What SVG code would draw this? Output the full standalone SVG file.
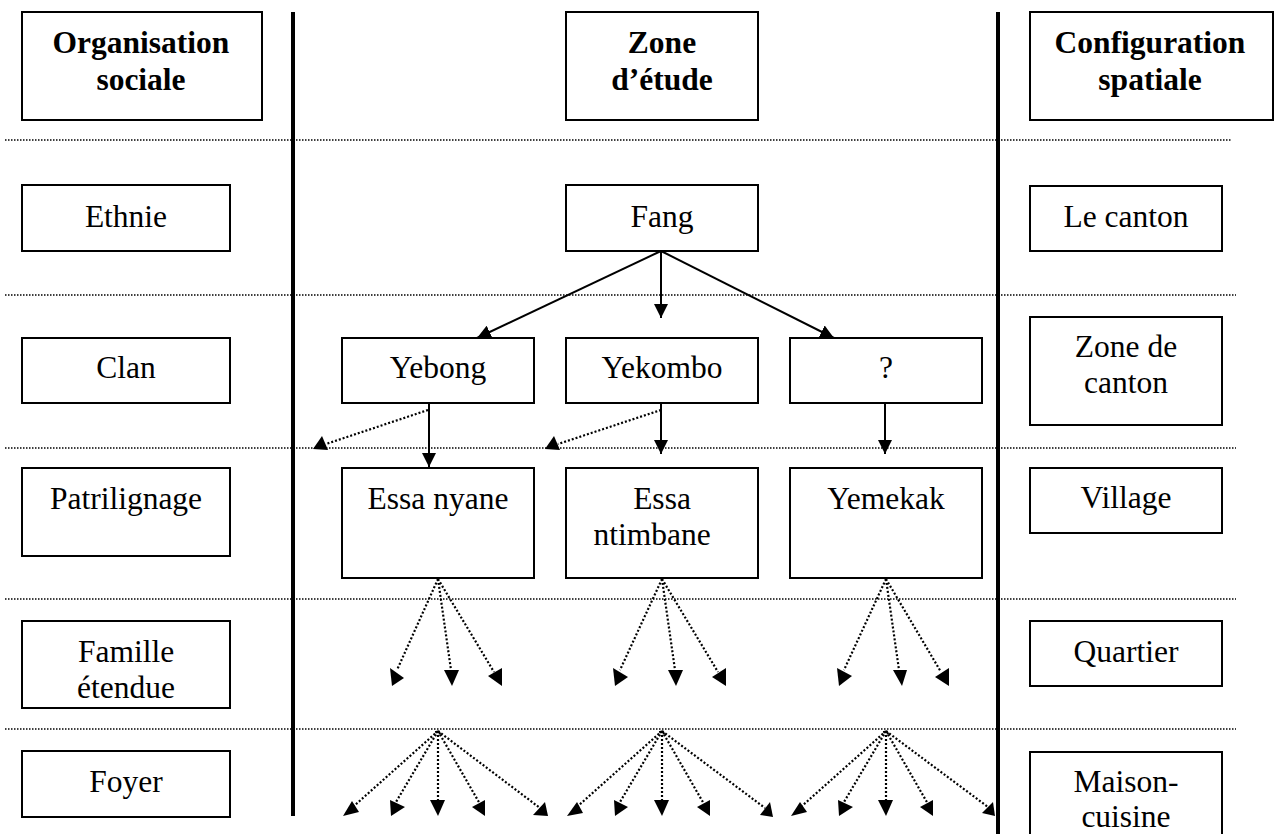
<svg xmlns="http://www.w3.org/2000/svg" width="1276" height="834" viewBox="0 0 1276 834">
  <defs>
    <style>
      .box { fill: #fff; stroke: #000; stroke-width: 2; }
      .lbl { font-family: "Liberation Serif", "Times New Roman", serif; font-size: 31.5px; fill: #000; text-anchor: middle; }
      .hdr { font-weight: bold; }
      .sep { stroke: #000; stroke-width: 1.5; stroke-dasharray: 1.5 1.5; fill: none; }
      .wall { stroke: #000; stroke-width: 4; fill: none; }
      .solid { stroke: #000; stroke-width: 2; fill: none; marker-end: url(#head); }
      .dot { stroke: #000; stroke-width: 2.2; stroke-dasharray: 2 2; fill: none; }
      .tip { fill: #000; stroke: none; }
    </style>
    <marker id="head" viewBox="0 0 14 14" refX="14" refY="7" markerWidth="14" markerHeight="14" markerUnits="userSpaceOnUse" orient="auto">
      <path d="M0,0 L14,7 L0,14 z" fill="#000"/>
    </marker>
  </defs>
  <rect width="1276" height="834" fill="#fff"/>

  <!-- level separators and column walls -->
  <g id="grid">
    <line class="sep" x1="5" y1="140" x2="1232" y2="140"/>
    <line class="sep" x1="5" y1="295" x2="1236" y2="295"/>
    <line class="sep" x1="5" y1="448" x2="1236" y2="448"/>
    <line class="sep" x1="5" y1="599" x2="1236" y2="599"/>
    <line class="sep" x1="5" y1="729" x2="1236" y2="729"/>
    <line class="wall" x1="293" y1="12" x2="293" y2="816"/>
    <line class="wall" x1="998" y1="12" x2="998" y2="834"/>
  </g>

  <!-- headers -->
  <g id="hdr-org">
    <rect class="box" x="22" y="12" width="240" height="108"/>
    <text class="lbl hdr" x="141" y="53">Organisation</text>
    <text class="lbl hdr" x="141" y="90">sociale</text>
  </g>
  <g id="hdr-zone">
    <rect class="box" x="566" y="12" width="192" height="108"/>
    <text class="lbl hdr" x="662" y="53">Zone</text>
    <text class="lbl hdr" x="662" y="90">d’étude</text>
  </g>
  <g id="hdr-config">
    <rect class="box" x="1030" y="12" width="243" height="108"/>
    <text class="lbl hdr" x="1150" y="53">Configuration</text>
    <text class="lbl hdr" x="1150" y="90">spatiale</text>
  </g>

  <!-- social organisation column -->
  <g id="ethnie">
    <rect class="box" x="22" y="185" width="208" height="66"/>
    <text class="lbl" x="126" y="227">Ethnie</text>
  </g>
  <g id="clan">
    <rect class="box" x="22" y="338" width="208" height="65"/>
    <text class="lbl" x="126" y="378">Clan</text>
  </g>
  <g id="patrilignage">
    <rect class="box" x="22" y="468" width="208" height="88"/>
    <text class="lbl" x="126" y="509">Patrilignage</text>
  </g>
  <g id="famille">
    <rect class="box" x="22" y="621" width="208" height="87"/>
    <text class="lbl" x="126" y="662">Famille</text>
    <text class="lbl" x="126" y="698">étendue</text>
  </g>
  <g id="foyer">
    <rect class="box" x="22" y="751" width="208" height="66"/>
    <text class="lbl" x="126" y="792">Foyer</text>
  </g>

  <!-- study zone column -->
  <g id="fang">
    <rect class="box" x="566" y="185" width="192" height="66"/>
    <text class="lbl" x="662" y="227">Fang</text>
  </g>
  <g id="yebong">
    <rect class="box" x="342" y="338" width="192" height="65"/>
    <text class="lbl" x="438" y="378">Yebong</text>
  </g>
  <g id="yekombo">
    <rect class="box" x="566" y="338" width="192" height="65"/>
    <text class="lbl" x="662" y="378">Yekombo</text>
  </g>
  <g id="unknown">
    <rect class="box" x="790" y="338" width="192" height="65"/>
    <text class="lbl" x="886" y="378">?</text>
  </g>
  <g id="essa-nyane">
    <rect class="box" x="342" y="468" width="192" height="110"/>
    <text class="lbl" x="438" y="509">Essa nyane</text>
  </g>
  <g id="essa-ntimbane">
    <rect class="box" x="566" y="468" width="192" height="110"/>
    <text class="lbl" x="662" y="509">Essa</text>
    <text class="lbl" x="652" y="545">ntimbane</text>
  </g>
  <g id="yemekak">
    <rect class="box" x="790" y="468" width="192" height="110"/>
    <text class="lbl" x="886" y="509">Yemekak</text>
  </g>

  <!-- spatial configuration column -->
  <g id="canton">
    <rect class="box" x="1030" y="186" width="192" height="65"/>
    <text class="lbl" x="1126" y="227">Le canton</text>
  </g>
  <g id="zone-canton">
    <rect class="box" x="1030" y="317" width="192" height="108"/>
    <text class="lbl" x="1126" y="357">Zone de</text>
    <text class="lbl" x="1126" y="393">canton</text>
  </g>
  <g id="village">
    <rect class="box" x="1030" y="468" width="192" height="65"/>
    <text class="lbl" x="1126" y="508">Village</text>
  </g>
  <g id="quartier">
    <rect class="box" x="1030" y="621" width="192" height="65"/>
    <text class="lbl" x="1126" y="662">Quartier</text>
  </g>
  <g id="maison">
    <rect class="box" x="1030" y="752" width="192" height="100"/>
    <text class="lbl" x="1126" y="792">Maison-</text>
    <text class="lbl" x="1126" y="827">cuisine</text>
  </g>

  <!-- connectors -->
  <g id="connectors">
    <!-- Fang to clans -->
    <line class="solid" x1="661" y1="251" x2="477" y2="338"/>
    <line class="solid" x1="661" y1="251" x2="661" y2="318"/>
    <line class="solid" x1="661" y1="251" x2="834" y2="338"/>
    <!-- clans to lineages -->
    <line class="solid" x1="429" y1="403" x2="429" y2="467"/>
    <line class="solid" x1="661" y1="403" x2="661" y2="454"/>
    <line class="solid" x1="885" y1="403" x2="885" y2="454"/>
    <!-- open branches -->
    <line class="dot" x1="428" y1="410" x2="326" y2="444"/>
    <polygon class="tip" points="313,449 322,436 328,450"/>
    <line class="dot" x1="661" y1="410" x2="558" y2="444"/>
    <polygon class="tip" points="545,449 554,436 560,450"/>

    <!-- lineages to extended families -->
    <path class="dot" d="M438,579 L397,670 M438,579 L451,670 M438,579 L494,672"/>
    <polygon class="tip" points="390,668 404,678 392,686"/>
    <polygon class="tip" points="444,670 459,670 452,686"/>
    <polygon class="tip" points="488,676 502,668 502,686"/>
    <path class="dot" d="M662,579 L620,670 M662,579 L675,670 M662,579 L718,672"/>
    <polygon class="tip" points="613,668 628,677 615,686"/>
    <polygon class="tip" points="668,670 683,670 676,686"/>
    <polygon class="tip" points="712,677 726,668 726,686"/>
    <path class="dot" d="M886,579 L844,670 M886,579 L899,670 M886,579 L941,672"/>
    <polygon class="tip" points="837,668 852,676 839,686"/>
    <polygon class="tip" points="893,670 907,670 902,686"/>
    <polygon class="tip" points="935,677 949,668 949,686"/>

    <!-- extended families to households -->
    <path class="dot" d="M436,731 a2.5,2.5 0 0 0 5,0" stroke-dasharray="none" stroke-width="1.2"/>
    <path class="dot" d="M438,731 L354,806 M438,731 L396,802 M438,731 L438,800 M438,731 L480,804 M438,731 L540,808"/>
    <polygon class="tip" points="343,816 352,801 359,812"/>
    <polygon class="tip" points="390,800 405,807 391,816"/>
    <polygon class="tip" points="430,800 445,800 438,816"/>
    <polygon class="tip" points="472,807 485,800 485,816"/>
    <polygon class="tip" points="533,815 548,816 545,802"/>

    <path class="dot" d="M660,731 a2.5,2.5 0 0 0 5,0" stroke-dasharray="none" stroke-width="1.2"/>
    <path class="dot" d="M662,731 L578,806 M662,731 L620,802 M662,731 L662,800 M662,731 L704,804 M662,731 L765,808"/>
    <polygon class="tip" points="567,816 577,802 583,813"/>
    <polygon class="tip" points="614,800 628,807 615,816"/>
    <polygon class="tip" points="654,800 669,800 662,816"/>
    <polygon class="tip" points="697,807 710,800 710,816"/>
    <polygon class="tip" points="760,815 773,817 770,802"/>

    <path class="dot" d="M884,731 a2.5,2.5 0 0 0 5,0" stroke-dasharray="none" stroke-width="1.2"/>
    <path class="dot" d="M886,731 L802,806 M886,731 L844,802 M886,731 L886,800 M886,731 L928,804 M886,731 L988,807"/>
    <polygon class="tip" points="791,816 800,802 807,812"/>
    <polygon class="tip" points="838,800 853,807 839,816"/>
    <polygon class="tip" points="878,800 893,800 886,816"/>
    <polygon class="tip" points="920,807 933,800 933,816"/>
    <polygon class="tip" points="982,813 995,816 993,802"/>
  </g>
</svg>
